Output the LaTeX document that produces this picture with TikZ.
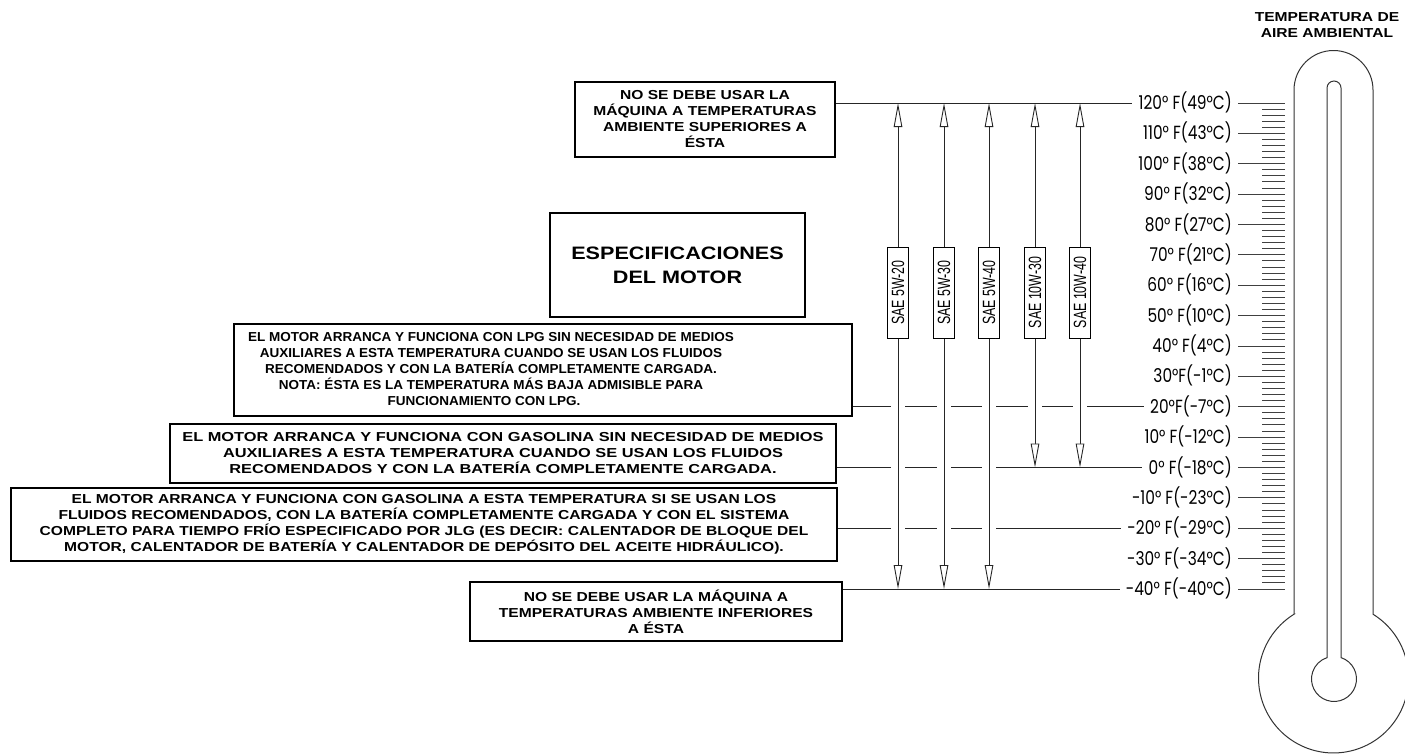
\documentclass[tikz,border=0pt]{standalone}
\usepackage{fontspec}
\setmainfont{Liberation Sans}
\newfontfamily\boxfont[FakeStretch=1.2]{Liberation Sans}
\newfontfamily\lpgfont[FakeStretch=1.04]{Liberation Sans}
\newfontfamily\gasfont[FakeStretch=1.26]{Liberation Sans}
\newfontfamily\oilfont[FakeStretch=0.7]{Liberation Sans}
\newfontfamily\degfont[FakeStretch=0.81]{Poppins}
\usepackage{tikz}
\usetikzlibrary{arrows.meta, positioning, calc}
\tikzset{
  notebox/.style = {rectangle, draw, line width=1.8pt, align=center, inner sep=0pt,
                    font=\boxfont\bfseries\fontsize{13}{16}\selectfont},
  plainbox/.style = {rectangle, draw, line width=1.8pt, inner sep=0pt},
  oilbox/.style  = {rectangle, draw, fill=white, rotate=90, line width=1pt, inner sep=0pt,
                    minimum width=91pt, minimum height=21pt,
                    font=\oilfont\fontsize{17.7}{17.7}\selectfont},
  templbl/.style = {anchor=east, inner xsep=6pt, inner ysep=0pt, text height=13pt, text depth=0pt,
                    font=\degfont\fontsize{19}{19}\selectfont},
  refline/.style = {line width=1pt, draw=black!85},
  tickline/.style = {line width=1pt, draw=black!75},
  oilarrow/.style = {line width=0.9pt, draw=black!85,
                     -{Triangle[length=24pt, width=8.5pt, fill=white]}},
  gapline/.style = {draw=white, line width=14pt},
  thermo/.style  = {line width=1pt, draw=black!80},
}
\begin{document}
\begin{tikzpicture}[x=1pt, y=1pt]
    \useasboundingbox (0,0) rectangle (1405,-753);

    %% Thermometer
    \draw[thermo] (1294,-614.2) -- (1294,-90) arc[start angle=180, end angle=0, radius=39.5]
        -- (1373,-614.2) arc[start angle=58.22, end angle=-238.22, radius=75] -- cycle;
    \draw[thermo] (1327,-657.6) -- (1327,-88) arc[start angle=180, end angle=0, radius=7]
        -- (1341,-657.6) arc[start angle=71.87, end angle=-251.87, radius=22.5] -- cycle;
    \node[align=center, font=\boxfont\bfseries\fontsize{13}{16}\selectfont] (hdr) at (1327,-25)
        {TEMPERATURA DE\\AIRE AMBIENTAL};

    %% Scale labels and ticks
    \foreach \T/\C/\n/\s in {120/49/t120/1, 110/43/t110/1, 100/38/t100/1, 90/32/t90/1,
        80/27/t80/1, 70/21/t70/1, 60/16/t60/1, 50/10/t50/1, 40/4/t40/1, 30/-1/t30/0,
        20/-7/t20/0, 10/-12/t10/1, 0/-18/t0/1, -10/-23/tm10/1, -20/-29/tm20/1,
        -30/-34/tm30/1, -40/-40/tm40/1}
    {
      \pgfmathsetmacro{\y}{-(103+(120-\T)*3.0375)}
      \node[templbl] (\n) at (1238,\y) {\T°\ifnum\s=1\ \fi F(\C°C)};
      \draw[tickline] (\n.east) -- ++(47,0);
    }
    \foreach \T in {120,110,...,-30}
      \foreach \j in {1,...,4} {
        \pgfmathsetmacro{\y}{-(103+(120-\T+2*\j)*3.0375)}
        \draw[tickline] (1262,\y) -- (1285,\y);
      }

    %% Notes
    \node[notebox, minimum width=260pt, minimum height=75pt] (topbox) at (705,-119.5)
        {NO SE DEBE USAR LA\\MÁQUINA A TEMPERATURAS\\AMBIENTE SUPERIORES A\\ÉSTA};
    \node[notebox, minimum width=255pt, minimum height=104pt,
          font=\boxfont\bfseries\fontsize{18}{24}\selectfont] (titlebox) at (677.5,-265)
        {ESPECIFICACIONES\\DEL MOTOR};
    \node[plainbox, minimum width=618pt, minimum height=92pt] (lpgbox) at (543,-370) {};
    \node[align=center, inner sep=0pt, font=\lpgfont\bfseries\fontsize{13}{16}\selectfont]
        (lpgtxt) at (491,-369)
        {EL MOTOR ARRANCA Y FUNCIONA CON LPG SIN NECESIDAD DE MEDIOS\\
         AUXILIARES A ESTA TEMPERATURA CUANDO SE USAN LOS FLUIDOS\\
         RECOMENDADOS Y CON LA BATERÍA COMPLETAMENTE CARGADA.\\
         NOTA: ÉSTA ES LA TEMPERATURA MÁS BAJA ADMISIBLE PARA\hspace*{24pt}\\
         FUNCIONAMIENTO CON LPG.\hspace*{14pt}};
    \node[notebox, minimum width=666pt, minimum height=59pt,
          font=\gasfont\bfseries\fontsize{13}{16}\selectfont] (gasbox) at (503,-453.5)
        {EL MOTOR ARRANCA Y FUNCIONA CON GASOLINA SIN NECESIDAD DE MEDIOS\\
         AUXILIARES A ESTA TEMPERATURA CUANDO SE USAN LOS FLUIDOS\\
         RECOMENDADOS Y CON LA BATERÍA COMPLETAMENTE CARGADA.};
    \node[notebox, minimum width=826pt, minimum height=73pt] (coldbox) at (424,-524.5)
        {EL MOTOR ARRANCA Y FUNCIONA CON GASOLINA A ESTA TEMPERATURA SI SE USAN LOS\\
         FLUIDOS RECOMENDADOS, CON LA BATERÍA COMPLETAMENTE CARGADA Y CON EL SISTEMA\\
         COMPLETO PARA TIEMPO FRÍO ESPECIFICADO POR JLG (ES DECIR: CALENTADOR DE BLOQUE DEL\\
         MOTOR, CALENTADOR DE BATERÍA Y CALENTADOR DE DEPÓSITO DEL ACEITE HIDRÁULICO).};
    \node[notebox, minimum width=372pt, minimum height=59pt] (lowbox) at (656,-611.5)
        {NO SE DEBE USAR LA MÁQUINA A\\TEMPERATURAS AMBIENTE INFERIORES\\A ÉSTA};

    %% Reference lines
    \draw[refline] (topbox.east |- t120.west) -- (t120.west);
    \draw[refline] (lpgbox.east |- t20.west)  -- (t20.west);
    \draw[refline] (gasbox.east |- t0.west)   -- (t0.west);
    \draw[refline] (coldbox.east |- tm20.west) -- (tm20.west);
    \draw[refline] (lowbox.east |- tm40.west) -- (tm40.west);

    %% Oil grades
    \foreach \x/\oil/\n/\e in {898/SAE 5W-20/1/tm40, 944/SAE 5W-30/2/tm40,
        989/SAE 5W-40/3/tm40, 1035/SAE 10W-30/4/t0, 1080/SAE 10W-40/5/t0}
    {
      \node[oilbox] (sae\n) at (\x,-292.5) {\oil};
      \coordinate (hi\n) at (sae\n |- t120.west);
      \coordinate (lo\n) at (sae\n |- \e.west);
      \draw[gapline] (sae\n) -- ([yshift=-16pt]hi\n);
      \draw[gapline] (sae\n) -- ([yshift=16pt]lo\n);
      \draw[oilarrow] (sae\n) -- (hi\n);
      \draw[oilarrow] (sae\n) -- (lo\n);
    }

  \end{tikzpicture}
\end{document}
